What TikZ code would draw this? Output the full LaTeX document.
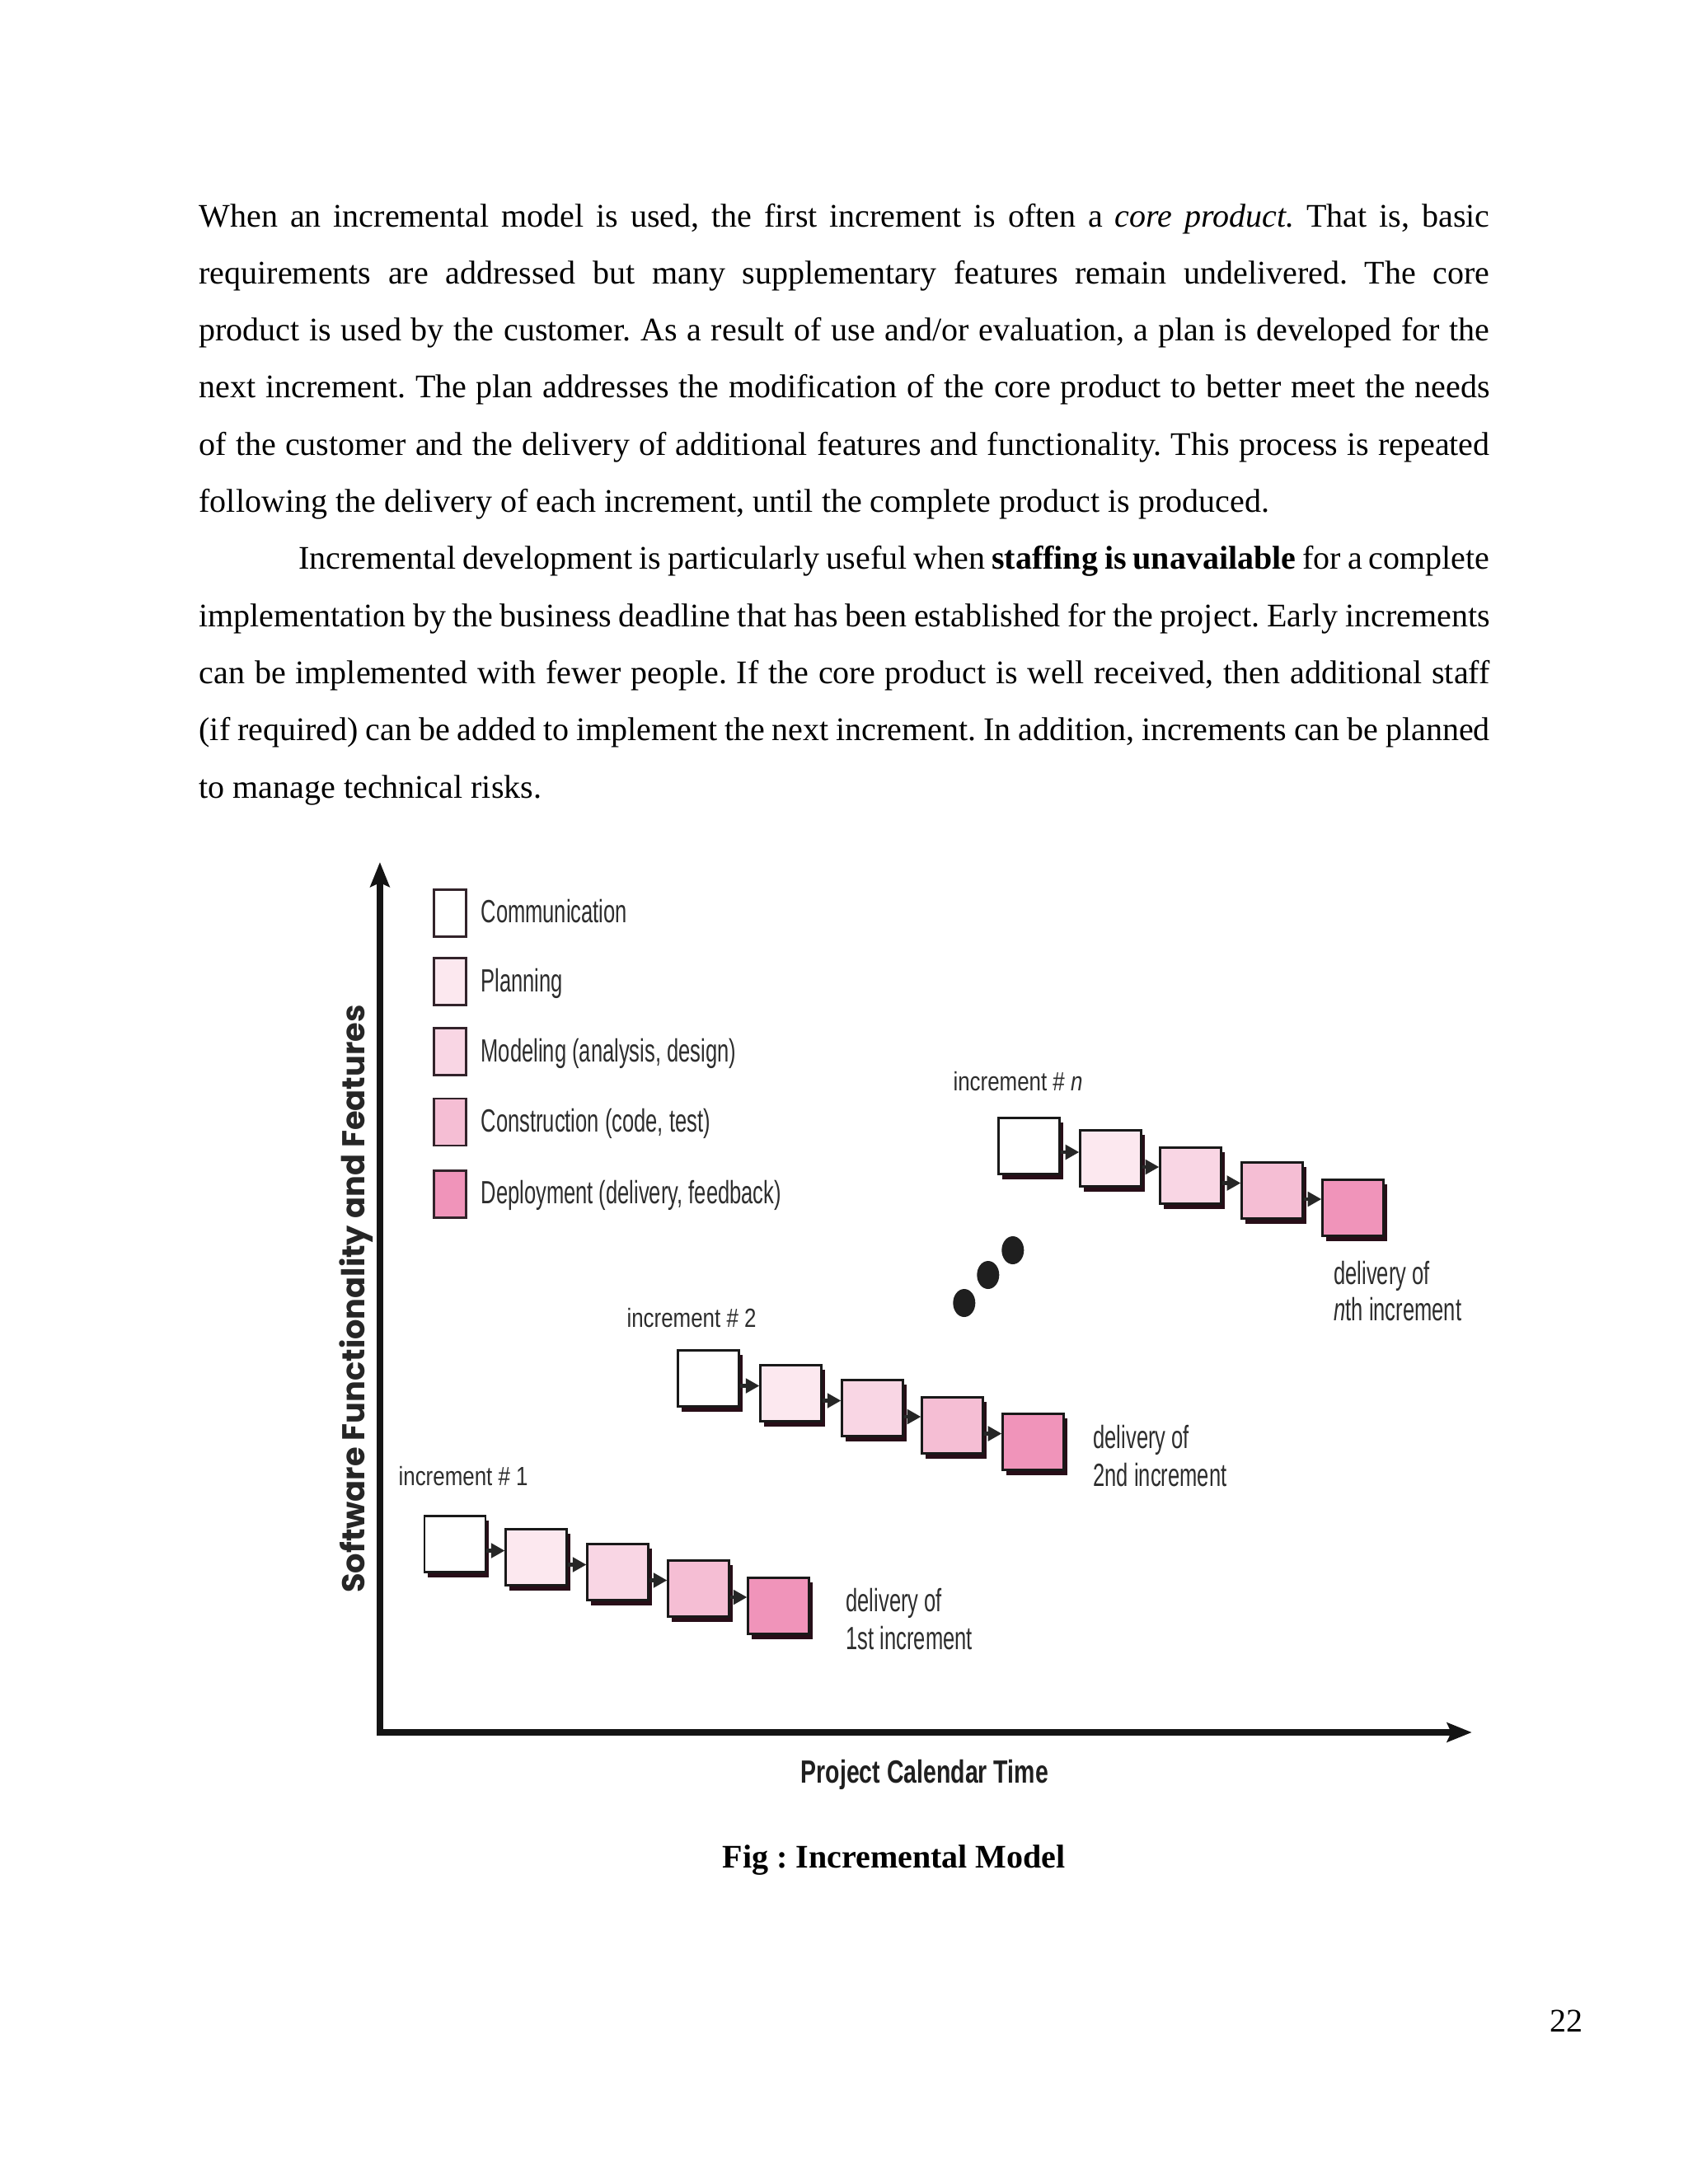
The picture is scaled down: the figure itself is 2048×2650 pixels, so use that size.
\documentclass[tikz,border=0pt]{standalone}
\usepackage{graphicx}
\usepackage{fontspec}
\setmainfont{Liberation Serif}
\newfontfamily\legfont[FakeStretch=0.655]{Liberation Sans}
\newfontfamily\incfont[FakeStretch=0.81]{Liberation Sans}
\newfontfamily\axfont[FakeStretch=0.73]{Liberation Sans}
\newfontfamily\ylabfont{Poppins}
\usetikzlibrary{arrows.meta,shadows,calc}

\definecolor{cPlan}{RGB}{252,232,239}
\definecolor{cModel}{RGB}{249,214,228}
\definecolor{cCons}{RGB}{245,190,212}
\definecolor{cDep}{RGB}{240,148,186}
\definecolor{shadowc}{RGB}{40,14,24}
\definecolor{labgray}{RGB}{45,45,45}
\definecolor{legborder}{RGB}{50,35,42}

\tikzset{
  pagetext/.style={anchor=base west, inner sep=0pt, font=\fontsize{12pt}{14pt}\selectfont},
  legtext/.style={anchor=base west, inner sep=0pt, text=labgray, font=\legfont\fontsize{11.7pt}{13pt}\selectfont},
  inctext/.style={anchor=base west, inner sep=0pt, text=labgray, font=\incfont\fontsize{9.6pt}{11pt}\selectfont},
  procbox/.style={rectangle, draw=black!90, line width=0.85pt, fill=#1,
    minimum width=22.2pt, minimum height=20.5pt, inner sep=0pt,
    general shadow={fill=shadowc, shadow xshift=1.3pt, shadow yshift=-1.8pt}},
  legbox/.style={rectangle, draw=legborder, line width=0.75pt, fill=#1,
    minimum width=11.8pt, minimum height=17pt, inner sep=0pt},
  flow/.style={line width=1.3pt, draw=black!85, -{Triangle[length=5pt,width=5.2pt]}},
  axisline/.style={line width=2.3pt, draw=black!92, line join=miter,
    {Stealth[length=9pt,width=7pt,inset=1.5pt]}-{Stealth[length=9pt,width=7pt,inset=1.5pt]}},
}

\newcommand\flowarrow[2]{%
  \coordinate (m#1#2) at ($(#1.south east)!0.5!(#2.north west)$);
  \draw[flow] (#1.east |- m#1#2) -- (#2.west |- m#1#2);}

\begin{document}
\frenchspacing
\begin{tikzpicture}[x=0.298828bp, y=-0.298868bp]
\useasboundingbox (0,0) rectangle (2048,2650);
\fill[white] (0,0) rectangle (2048,2650);

% ---------- page text ----------
\node[pagetext] (l1) at (241,275) {\makebox[6.5in][s]{When an incremental model is used, the first increment is often a \textit{core product.} That is, basic}};
\node[pagetext] (l2) at (241,344.3) {\makebox[6.5in][s]{requirements are addressed but many supplementary features remain undelivered. The core}};
\node[pagetext] (l3) at (241,413.6) {\makebox[6.5in][s]{product is used by the customer. As a result of use and/or evaluation, a plan is developed for the}};
\node[pagetext] (l4) at (241,482.9) {\makebox[6.5in][s]{next increment. The plan addresses the modification of the core product to better meet the needs}};
\node[pagetext] (l5) at (241,552.2) {\makebox[6.5in][s]{of the customer and the delivery of additional features and functionality. This process is repeated}};
\node[pagetext] (l6) at (241,621.5) {following the delivery of each increment, until the complete product is produced.};
\node[pagetext] (l7) at (361.5,690.8) {\makebox[6in][s]{Incremental development is particularly useful when \textbf{staffing is unavailable} for a complete}};
\node[pagetext] (l8) at (241,760.1) {\makebox[6.5in][s]{implementation by the business deadline that has been established for the project. Early increments}};
\node[pagetext] (l9) at (241,829.4) {\makebox[6.5in][s]{can be implemented with fewer people. If the core product is well received, then additional staff}};
\node[pagetext] (l10) at (241,898.7) {\makebox[6.5in][s]{(if required) can be added to implement the next increment. In addition, increments can be planned}};
\node[pagetext] (l11) at (241,968) {to manage technical risks.};

% ---------- axes ----------
\coordinate (O) at (461,2102);
\coordinate (ytip) at (461,1046);
\coordinate (xtip) at (1786,2102);
\draw[axisline] (ytip) -- (O) -- (xtip);

\node[rotate=90, anchor=base, inner sep=0pt, text=black!85] (ylab) at (443,1576)
  {\resizebox{214pt}{!}{\ylabfont\bfseries\fontsize{9pt}{10pt}\selectfont Software Functionality and Features}};
\node[anchor=base, inner sep=0pt, text=black!88] (xlab) at (1122,2163)
  {\axfont\bfseries\fontsize{11.7pt}{13pt}\selectfont Project Calendar Time};

% ---------- legend ----------
\node[legbox=white]  (g1) at (546,1108) {};
\node[legbox=cPlan]  (g2) at (546,1191) {};
\node[legbox=cModel] (g3) at (546,1276) {};
\node[legbox=cCons]  (g4) at (546,1361.5) {};
\node[legbox=cDep]   (g5) at (546,1449) {};
\node[legtext] (t1) at (583,1119) {Communication};
\node[legtext] (t2) at (583,1203) {Planning};
\node[legtext] (t3) at (583,1288) {Modeling (analysis, design)};
\node[legtext] (t4) at (583,1373) {Construction (code, test)};
\node[legtext] (t5) at (583,1460) {Deployment (delivery, feedback)};

% ---------- increment 1 ----------
\node[inctext] (inc1) at (483,1802) {increment \# 1};
\node[procbox=white]  (a1) at (552,1873.5) {};
\node[procbox=cPlan]  (a2) at (651,1889.5) {};
\node[procbox=cModel] (a3) at (750,1907.5) {};
\node[procbox=cCons]  (a4) at (848,1927.5) {};
\node[procbox=cDep]   (a5) at (945,1948.5) {};
\flowarrow{a1}{a2}\flowarrow{a2}{a3}\flowarrow{a3}{a4}\flowarrow{a4}{a5}
\node[legtext] (d1a) at (1026,1955) {delivery of};
\node[legtext] (d1b) at (1026,2001) {1st increment};

% ---------- increment 2 ----------
\node[inctext] (inc2) at (760,1610) {increment \# 2};
\node[procbox=white]  (b1) at (860,1672.5) {};
\node[procbox=cPlan]  (b2) at (960,1690.5) {};
\node[procbox=cModel] (b3) at (1059,1708.5) {};
\node[procbox=cCons]  (b4) at (1156,1729.5) {};
\node[procbox=cDep]   (b5) at (1254,1749.5) {};
\flowarrow{b1}{b2}\flowarrow{b2}{b3}\flowarrow{b3}{b4}\flowarrow{b4}{b5}
\node[legtext] (d2a) at (1326,1757) {delivery of};
\node[legtext] (d2b) at (1326,1803) {2nd increment};

% ---------- dots ----------
\fill[black!88] (1170,1581) ellipse [x radius=13.5, y radius=17];
\fill[black!88] (1199,1547) ellipse [x radius=13.5, y radius=17];
\fill[black!88] (1229,1517) ellipse [x radius=13.5, y radius=17];

% ---------- increment n ----------
\node[inctext] (incn) at (1156,1323) {increment \# \textit{n}};
\node[procbox=white]  (c1) at (1249,1390.5) {};
\node[procbox=cPlan]  (c2) at (1348,1405.5) {};
\node[procbox=cModel] (c3) at (1445,1426.5) {};
\node[procbox=cCons]  (c4) at (1544,1444.5) {};
\node[procbox=cDep]   (c5) at (1642,1465.5) {};
\flowarrow{c1}{c2}\flowarrow{c2}{c3}\flowarrow{c3}{c4}\flowarrow{c4}{c5}
\node[legtext] (dna) at (1618,1558) {delivery of};
\node[legtext] (dnb) at (1618,1602) {\textit{n}th increment};

% ---------- caption and page number ----------
\node[anchor=base, inner sep=0pt, font=\fontsize{12pt}{14pt}\selectfont\bfseries] (cap) at (1085,2266) {Fig : Incremental Model};
\node[anchor=base east, inner sep=0pt, font=\fontsize{12pt}{14pt}\selectfont] (pg) at (1921,2465) {22};
\end{tikzpicture}
\end{document}
